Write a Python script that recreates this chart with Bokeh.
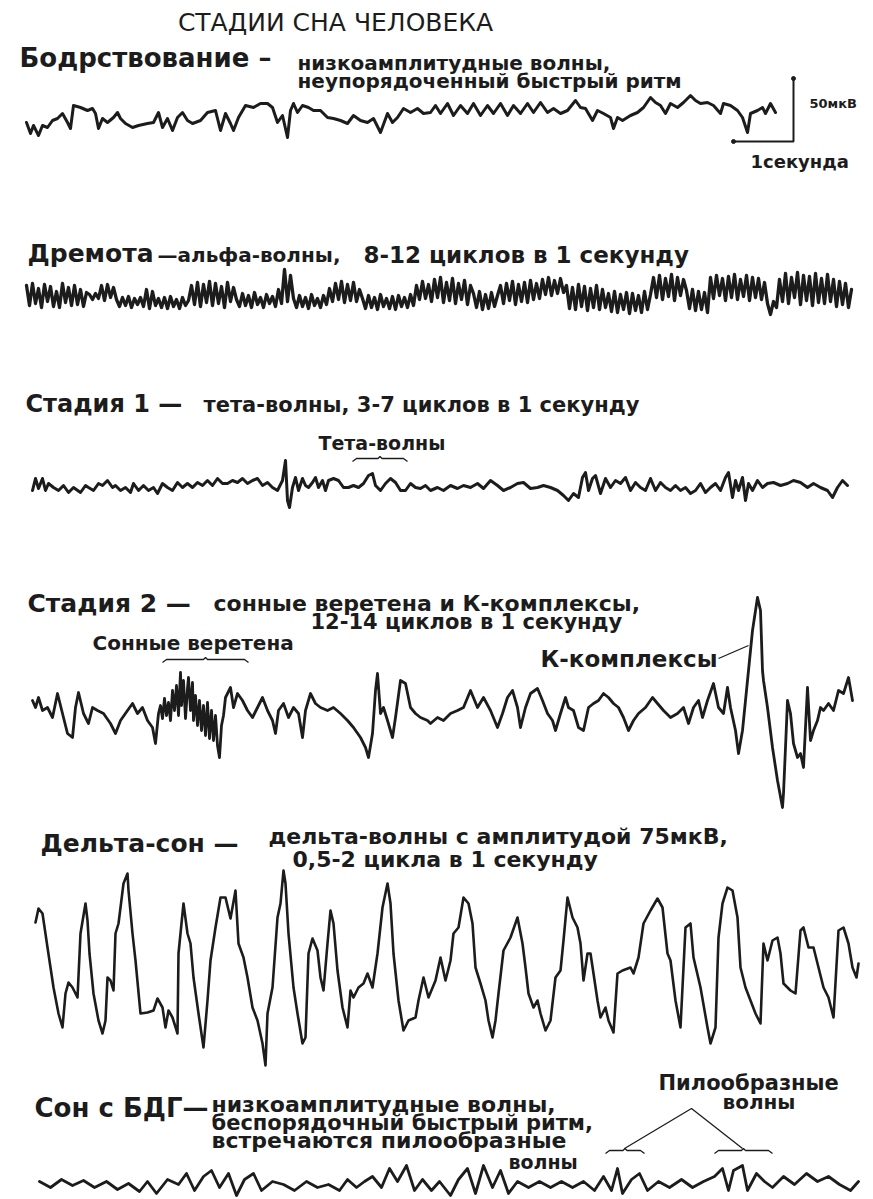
from bokeh.plotting import figure
from bokeh.models import Range1d
from bokeh.embed import file_html
from bokeh.resources import INLINE
from bokeh.core.properties import value

# ---------------- data: (time position in 1/60 s units, deflection upward) ----------------
wake = [(26,-2),(30,-13),(33,-5),(38,-15),(42,-5),(47,-7),(52,0),(57,2),(62,7),(67,-2),(70,-8),(73,15),
        (80,13),(87,10),(92,12),(95,7),(98,-8),(102,2),(107,-2),(113,3),(117,8),(120,2),(125,-3),(132,-7),
        (138,-5),(147,-3),(153,-2),(158,8),(162,-7),(167,2),(172,-10),(177,3),(182,8),(187,0),(192,-3),
        (200,0),(207,8),(215,10),(220,-10),(225,7),(230,-3),(233,-10),(238,3),(245,15),(253,13),(260,17),
        (267,17),(272,13),(277,-2),(282,5),(287,-17),(290,10),(293,17),(297,8),(302,15),(308,13),(313,10),
        (320,10),(327,3),(333,2),(340,0),(347,-3),(353,5),(360,0),(367,-2),(373,2),(380,-12),(387,7),
        (392,-2),(397,3),(403,12),(410,8),(417,12),(423,7),(430,8),(435,15),(440,7),(447,17),(453,5),
        (460,15),(467,7),(473,17),(480,5),(487,15),(493,7),(500,17),(507,5),(513,15),(520,7),(527,17),
        (533,8),(540,18),(547,8),(553,12),(560,7),(567,10),(575,20),(580,13),(585,12),(592,0),(597,10),
        (603,7),(610,3),(613,-8),(617,3),(622,0),(630,5),(637,8),(643,13),(650,23),(655,18),(660,15),
        (665,7),(670,17),(677,13),(683,18),(690,25),(695,20),(700,17),(707,18),(713,15),(720,7),(723,17),
        (730,15),(737,10),(742,3),(747,-12),(750,7),(757,10),(762,13),(765,7),(770,17),(775,8)]

drowsy_start, drowsy_step = 26, 3
drowsy_v = [12,-8,14,-6,9,-10,13,-4,11,-9,6,-10,14,-5,10,-8,12,-7,8,-9,5,
            3,-2,4,-1,
            12,-3,13,0,10,
            -2,-9,0,-8,1,-10,-1,-7,0,
            -9,8,-11,6,-8,
            -1,-10,0,-11,1,-9,-2,-11,0,-8,-3,
            12,-7,15,-9,13,-5,16,-8,14,-6,11,-10,15,-4,10,
            -2,-9,4,-8,2,-10,5,-7,0,-10,3,-6,1,-9,
            8,-6,28,-4,22,
            -1,-10,2,-9,0,-11,3,-8,-1,-10,2,-7,
            9,-4,14,-2,16,-5,13,-3,15,-4,8,
            -1,-11,2,-10,0,-12,3,-9,-1,-11,1,-12,2,-9,0,-10,3,-8,
            12,-2,16,-1,13,-4,18,0,20,-5,15,-3,19,-6,14,-2,17,-7,12,
            4,-10,6,-12,3,-11,5,-9,2,
            12,-6,14,-3,16,-7,13,-4,15,-5,17,-2,14,-1,
            18,3,20,2,17,4,19,5,
            12,-11,10,-12,13,-9,11,-13,9,-10,12,-12,8,-10,
            4,-14,6,-15,3,-12,5,-16,4,-13,2,-15,6,-12,3,
            20,0,22,-2,19,1,23,-3,20,2,18,
            7,-11,8,-13,6,-12,5,-15,
            20,-1,22,2,19,-3,21,0,23,-2,18,1,22,-3,20,0,19,-2,15,
            -6,-17,-4,-10,
            18,-4,24,-6,20,0,25,-7,22,-3,21,-8,24,-5,19,-6,23,-4,18,-9,16,-7,14,-10,8]

stage1 = [(32,-2),(35,10),(38,0),(42,10),(45,-2),(48,5),(53,1),(58,-2),(63,3),(68,-4),(73,1),(80,-4),
          (85,3),(88,1),(93,-2),(98,5),(102,3),(107,8),(112,1),(115,3),(120,-2),(125,1),(130,-4),(133,5),
          (138,-2),(143,3),(148,-2),(153,1),(157,-5),(162,5),(167,1),(172,-2),(177,6),(182,1),(187,5),
          (192,1),(197,6),(202,3),(207,8),(212,3),(217,10),(222,5),(227,5),(232,8),(237,6),(242,10),
          (247,5),(252,8),(257,10),(262,3),(267,6),(272,1),(277,-2),(282,8),(285,28),(287,-12),(289,-19),
          (292,1),(295,11),(298,-2),(302,10),(305,3),(308,1),(312,6),(315,11),(318,1),(322,8),(325,-2),
          (328,8),(333,10),(338,8),(343,1),(348,1),(353,3),(358,1),(363,5),(368,13),(372,15),(375,3),
          (380,-2),(385,5),(390,10),(395,6),(400,-2),(405,-2),(410,5),(415,1),(420,0),(425,3),(430,-2),
          (437,1),(443,-2),(450,3),(457,0),(463,3),(470,1),(477,5),(483,0),(490,8),(497,3),(503,-2),
          (510,1),(517,5),(523,6),(530,0),(537,1),(543,3),(550,1),(557,-2),(563,-7),(568,-12),(573,-5),
          (578,-9),(582,11),(585,16),(588,-2),(592,10),(595,13),(600,-5),(605,10),(610,1),(615,8),(620,5),
          (625,11),(630,-2),(635,6),(640,1),(645,-2),(650,10),(655,-2),(660,6),(665,1),(670,-2),(675,3),
          (680,-2),(685,1),(690,-5),(695,-2),(700,5),(705,-4),(710,1),(715,5),(720,-2),(725,11),(728,16),
          (732,-9),(735,8),(738,-2),(742,11),(745,-12),(748,5),(752,-2),(757,8),(762,1),(767,5),(773,6),
          (780,3),(787,5),(793,8),(800,6),(807,1),(813,5),(820,1),(827,-2),(832,-9),(837,1),(842,8),(847,3)]

stage2 = [(32,10),(35,3),(38,13),(42,0),(47,3),(52,-7),(57,17),(62,-3),(67,-23),(72,-27),(75,3),(78,18),
          (83,-3),(88,-13),(92,3),(97,0),(103,-3),(110,-13),(115,-23),(120,-10),(127,0),(132,7),(137,-3),
          (142,3),(147,-10),(152,-17),(155,-33),(158,-3),(160,5),(162,-8),(164,12),(166,-5),(168,8),
          (170,-10),(172,20),(174,0),(176,25),(178,-5),(180,38),(181,5),(183,30),(185,-8),(187,22),
          (188,33),(190,0),(192,28),(193,-10),(195,15),(197,-15),(199,10),(201,-20),(203,5),(205,-25),
          (207,8),(209,-28),(211,0),(213,-30),(215,-5),(217,-35),(219,-47),(221,-15),(223,-5),(225,13),
          (230,23),(233,3),(237,17),(242,10),(247,0),(252,-7),(257,3),(262,13),(267,0),(272,-10),
          (275,-23),(278,0),(283,7),(288,-7),(293,3),(298,-3),(302,-27),(305,0),(310,17),(315,7),(320,3),
          (327,0),(333,3),(340,-3),(347,-10),(353,-17),(360,-27),(365,-37),(368,-47),(372,-23),(375,20),
          (377,37),(380,-3),(383,3),(387,-10),(392,-27),(395,-7),(400,30),(405,27),(410,3),(415,-3),
          (420,-7),(427,-10),(430,-13),(437,-7),(443,-10),(450,-3),(457,0),(463,3),(470,20),(477,3),
          (483,13),(490,0),(497,-17),(502,-3),(507,13),(512,20),(517,3),(520,-17),(525,3),(530,17),
          (537,22),(542,10),(547,-3),(552,-10),(555,-20),(560,-3),(565,13),(568,3),(573,0),(578,-17),
          (583,-20),(588,3),(593,7),(598,10),(603,17),(608,13),(613,7),(618,3),(623,-7),(628,-20),
          (633,-10),(638,-3),(645,3),(652,13),(657,7),(663,0),(670,-7),(677,-3),(683,3),(688,-13),
          (693,3),(698,10),(702,-7),(707,10),(713,27),(718,3),(723,-3),(727,23),(730,3),(735,-20),
          (738,-43),(742,-20),(747,30),(752,80),(757,113),(760,100),(762,40),(763,30),(767,3),(772,-37),
          (777,-70),(782,-97),(783,-83),(785,-37),(787,10),(790,-3),(793,-33),(797,-47),(800,-43),
          (803,-57),(807,23),(810,-30),(813,-20),(817,-10),(820,3),(823,0),(828,7),(833,0),(838,20),
          (843,17),(848,33),(852,10)]

delta = [(35,38),(38,52),(42,47),(47,13),(53,-27),(58,-53),(62,-67),(65,-33),(68,-22),(72,-27),(77,-37),
         (80,27),(85,57),(87,40),(89,7),(93,-33),(98,-60),(102,-73),(105,-60),(107,-17),(110,-20),(113,-30),
         (115,27),(118,37),(123,77),(127,87),(128,70),(132,27),(135,0),(140,-53),(147,-52),(153,-50),
         (157,-38),(162,-47),(165,-67),(168,-50),(172,-57),(177,-73),(178,7),(183,57),(187,27),(190,17),
         (193,-17),(198,-53),(203,-87),(207,-40),(210,0),(215,33),(220,63),(225,63),(230,42),(235,70),
         (238,17),(243,3),(247,-17),(252,-47),(257,-60),(262,-83),(265,-105),(267,-53),(272,-27),(277,43),
         (280,57),(283,90),(285,77),(288,27),(293,-27),(297,-53),(302,-83),(305,-77),(308,7),(312,22),
         (317,10),(320,-17),(323,-30),(327,17),(330,50),(333,37),(337,-10),(342,-47),(347,-67),(350,-30),
         (353,-37),(358,-27),(363,-23),(367,-13),(372,-27),(377,7),(382,53),(387,77),(390,57),(393,7),
         (398,-40),(403,-70),(408,-60),(415,-57),(418,-40),(423,-17),(428,-37),(435,-20),(440,3),(445,-20),
         (450,0),(453,27),(458,33),(463,63),(468,57),(472,37),(475,-7),(480,-23),(485,-40),(488,-60),
         (492,-77),(495,-60),(498,-33),(503,10),(510,23),(517,43),(522,17),(525,-7),(528,-33),(533,-47),
         (537,-40),(540,-53),(545,-70),(550,-60),(555,-17),(560,-10),(563,20),(567,63),(572,43),(577,33),
         (580,17),(583,-20),(587,7),(590,7),(593,-13),(597,-40),(600,-57),(605,-47),(608,-60),(613,-72),
         (617,-13),(622,-10),(630,-7),(633,-13),(638,3),(643,37),(650,50),(657,62),(662,53),(667,7),
         (670,0),(675,-40),(680,-67),(685,33),(690,37),(693,3),(700,-27),(707,-67),(710,-83),(715,-67),
         (718,23),(722,57),(727,73),(732,70),(737,43),(740,-7),(745,-27),(750,-40),(755,-53),(760,-63),
         (763,17),(767,0),(772,20),(777,23),(780,7),(783,-23),(790,-30),(795,-33),(800,30),(803,33),
         (808,13),(813,13),(818,-7),(823,-27),(828,-37),(833,-57),(838,30),(843,33),(848,17),(852,-7),
         (856,-17),(858,-3)]

rem = [(39,1),(50,-5),(61,3),(72,-3),(83,2),(94,-5),(106,1),(117,-7),(128,-1),(139,-9),(147,1),(156,-11),
       (167,3),(178,-2),(186,9),(194,-8),(203,6),(211,12),(219,-5),(228,9),(236,-13),(244,3),(253,9),
       (261,-8),(272,1),(283,-2),(294,-8),(306,1),(317,-5),(328,-2),(339,-8),(347,3),(356,-5),(364,1),
       (372,6),(381,-5),(389,14),(397,1),(406,17),(414,-8),(422,3),(431,-8),(439,1),(450,-13),(458,3),
       (467,14),(475,-11),(483,17),(492,-5),(500,12),(508,-11),(517,1),(528,-5),(539,1),(550,-5),(561,1),
       (572,-5),(583,1),(594,-8),(603,6),(611,-8),(617,14),(622,-11),(631,3),(639,9),(647,-8),(658,1),
       (669,-5),(681,3),(692,-5),(703,1),(714,6),(722,14),(728,-8),(733,12),(742,17),(747,-8),(756,9),
       (764,1),(772,-5),(783,6),(794,-2),(806,9),(817,1),(828,6),(839,-2),(850,-8),(858,1)]

labels = [
    ("Бодрствование –", 19, 57, 26),
    ("низкоамплитудные волны,", 297, 62, 20),
    ("неупорядоченный быстрый ритм", 297, 80, 20),
    ("Дремота", 27, 253, 25),
    ("—альфа-волны,", 157, 254, 20),
    ("8-12 циклов в 1 секунду", 363, 254, 23),
    ("Стадия 1 —", 25, 403, 24),
    ("тета-волны, 3-7 циклов в 1 секунду", 203, 404, 21),
    ("Тета-волны", 318, 442, 19),
    ("Стадия 2 —", 27, 603, 25),
    ("сонные веретена и К-комплексы,", 213, 603, 22),
    ("12-14 циклов в 1 секунду", 310, 621, 21),
    ("Сонные веретена", 92, 642, 20),
    ("К-комплексы", 540, 658, 23),
    ("Дельта-сон —", 40, 843, 25),
    ("дельта-волны с амплитудой 75мкВ,", 268, 836, 22),
    ("0,5-2 цикла в 1 секунду", 292, 859, 22),
    ("Сон с БДГ—", 34, 1107, 26),
    ("низкоамплитудные волны,", 211, 1104, 22),
    ("беспорядочный быстрый ритм,", 211, 1122, 21),
    ("встречаются пилообразные", 211, 1140, 22),
    ("волны", 508, 1161, 19),
    ("Пилообразные", 658, 1082, 21),
    ("волны", 722, 1101, 20),
    ("1секунда", 750, 161, 18),
    ("50мкВ", 809, 103, 13),
]

INK = "#1c1c1c"
FONT = "DejaVu Sans"
W, H = 873, 1199

p = figure(width=W, height=H, x_range=Range1d(0, W), y_range=Range1d(H, 0),
           x_axis_type=None, y_axis_type=None, output_backend="svg",
           toolbar_location=None, min_border=0)
p.grid.visible = False
p.outline_line_color = None
p.background_fill_color = "white"
p.border_fill_color = "white"


def trace(pairs, base, lw=2.8):
    xs = [a for a, b in pairs]
    ys = [base - b for a, b in pairs]
    p.line(xs, ys, line_width=lw, line_color=INK, line_join="round", line_cap="round")


trace(wake, 120, 3.0)
drowsy = [(drowsy_start + drowsy_step * i, v) for i, v in enumerate(drowsy_v)]
trace(drowsy, 297, 3.3)
trace(stage1, 488, 3.0)
trace(stage2, 710)
trace(delta, 960, 2.6)
trace(rem, 1182)

# title
p.text(x=[335], y=[22], text=["СТАДИИ СНА ЧЕЛОВЕКА"], text_font=value(FONT),
       text_font_size="25px", text_align="center", text_baseline="middle", text_color=INK)

for s, x, y, size in labels:
    p.text(x=[x], y=[y], text=[s], text_font=value(FONT), text_font_style="bold",
           text_font_size=f"{size}px", text_align="left", text_baseline="middle", text_color=INK)

# scale bar (50 µV vertical, 1 s horizontal)
p.line([793, 793, 733], [78, 141, 141], line_width=2, line_color=INK)
p.scatter([793, 733], [78, 141], size=4, color=INK)


def bracket(x0, x1, y):
    xm = (x0 + x1) / 2
    p.line([x0, x0 + 4, xm - 2, xm, xm + 2, x1 - 4, x1],
           [y + 3, y, y, y - 2, y, y, y + 3], line_width=1.3, line_color=INK)


bracket(352, 407, 458)
bracket(162, 248, 659)
bracket(605, 644, 1150)
bracket(714, 772, 1150)

# leader lines
p.line([718, 748], [658, 645], line_width=1.3, line_color=INK)
p.line([624, 691, 742], [1148, 1108, 1148], line_width=1.3, line_color=INK)

open("out.html", "w", encoding="utf-8").write(file_html(p, INLINE))
